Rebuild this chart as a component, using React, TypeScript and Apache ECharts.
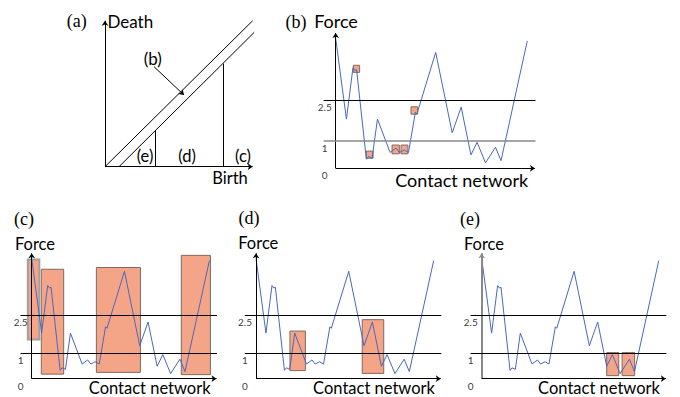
import React, { useEffect, useRef } from 'react';
import * as echarts from 'echarts';

// ---------- data ----------
// Force signal along the contact network (same signal in panels b–e)
const signalX = [0, 5.6, 9.0, 10.0, 10.9, 16.0, 17.1, 19.0, 21.8, 28.4, 31.5, 33.3, 35.8, 38.0, 41.6, 42.4, 52.2, 60.8, 65.5, 70.6, 73.8, 78.2, 83.4, 86.3, 100];
const signalForce = [4.75, 1.8, 3.68, 3.58, 3.61, 0.33, 0.43, 0.37, 1.8, 0.58, 0.74, 0.58, 0.67, 0.58, 2.05, 1.99, 4.24, 1.3, 2.24, 0.49, 0.95, 0.2, 0.77, 0.28, 4.66];
const thresholds = [1, 2.5];
const tickValues = [0, 1, 2.5];
const tickLabels = ['0', '1', '2.5'];

// highlighted boxes [x1, y1, x2, y2]
const boxesB = [[9.2, 3.51, 12.5, 3.77], [16.0, 0.37, 19.5, 0.63], [29.4, 0.53, 33.2, 0.85], [34.1, 0.53, 37.7, 0.85], [39.3, 1.98, 42.8, 2.25]];
const boxesC = [[-2.2, 1.55, 4.3, 4.71], [5.4, 0.18, 18.0, 4.32], [36.4, 0.25, 61.2, 4.39], [84.2, 0.16, 100.6, 4.87]];
const boxesD = [[19.1, 0.32, 27.8, 1.88], [59.8, 0.21, 71.9, 2.33]];
const boxesE = [[70.6, 0.12, 77.4, 1.03], [79.3, 0.12, 86.4, 1.03]];

// Panel (a): birth–death diagram
const diagonalUpper = [[0, 0], [100, 100]];
const diagonalLower = [[9.5, 0], [101, 92]];
const birthCuts = [34.3, 80.1];
const pointer = [[33.2, 68.5], [53.5, 49.1]];

const SANS = 'Lato, "Open Sans", sans-serif';
const SERIF = '"Liberation Serif", "DejaVu Serif", serif';
const BLUE = '#4a68bd';

function seg(a: number[], b: number[], color = '#000', width = 1, arrow = false, size = 6) {
  return [
    { coord: a, symbol: 'none', lineStyle: { color, width, type: 'solid' } },
    { coord: b, symbol: arrow ? 'arrow' : 'none', symbolSize: size },
  ];
}

const forcePanels = [
  { grid: { left: 323.25, top: 31.65, width: 213.6, height: 136.65 }, boxes: boxesB, yAxisColor: '#000', yAxisWidth: 1, lowColor: '#888', lowWidth: 1.6, firstBorder: null },
  { grid: { left: 20.15, top: 252.05, width: 198.1, height: 126.65 }, boxes: boxesC, yAxisColor: '#000', yAxisWidth: 1, lowColor: '#000', lowWidth: 1, firstBorder: '#a0a0a0' },
  { grid: { left: 244.45, top: 252.05, width: 198.1, height: 126.65 }, boxes: boxesD, yAxisColor: '#000', yAxisWidth: 1, lowColor: '#000', lowWidth: 1, firstBorder: null },
  { grid: { left: 470.2, top: 252.05, width: 197.4, height: 126.65 }, boxes: boxesE, yAxisColor: '#888', yAxisWidth: 2, lowColor: '#000', lowWidth: 1, firstBorder: null },
];

function buildOption() {
  const grids: any[] = [{ left: 105, top: 20.7, width: 150.65, height: 146 }];
  const xAxes: any[] = [{ type: 'value', gridIndex: 0, min: 0, max: 102, show: false }];
  const yAxes: any[] = [{ type: 'value', gridIndex: 0, min: 0, max: 100, show: false }];
  const series: any[] = [];

  // panel (a)
  const aLines: any[] = [
    seg([0, 0], [0, 100], '#000', 1, true, 5),
    seg([0, 0], [100, 0], '#000', 1, true, 5),
    seg(diagonalUpper[0], diagonalUpper[1]),
    seg(diagonalLower[0], diagonalLower[1]),
    ...birthCuts.map((x) => seg([x, 0], [x, x - diagonalLower[0][0]])),
    seg(pointer[0], pointer[1], '#000', 1, true, 5),
  ];
  series.push({
    type: 'line', xAxisIndex: 0, yAxisIndex: 0, data: [], silent: true,
    markLine: { silent: true, animation: false, label: { show: false }, emphasis: { disabled: true }, data: aLines },
  });

  forcePanels.forEach((p, i) => {
    const gi = i + 1;
    grids.push(p.grid);
    xAxes.push({ type: 'value', gridIndex: gi, min: -6.5, max: 105, show: false });
    yAxes.push({ type: 'value', gridIndex: gi, min: 0, max: 5, show: false });
    const pts = signalX.map((x, j) => [x, signalForce[j]]);
    series.push({
      type: 'line', xAxisIndex: gi, yAxisIndex: gi, data: pts, showSymbol: false, symbol: 'none', silent: true, z: 2,
      lineStyle: { color: BLUE, width: 1 },
      markLine: {
        silent: true, animation: false, label: { show: false }, emphasis: { disabled: true },
        data: [
          seg([0, 0], [0, 4.95], p.yAxisColor, p.yAxisWidth, true, 5),
          seg([0, 0], [104, 0], '#000', 1, true, 5),
          seg([-6.3, thresholds[1]], [104.3, thresholds[1]], '#000', 1),
          seg([-6.3, thresholds[0]], [104.3, thresholds[0]], p.lowColor, p.lowWidth),
        ],
      },
    });
    series.push({
      type: 'line', xAxisIndex: gi, yAxisIndex: gi, data: [], silent: true, z: 4,
      markArea: {
        silent: true, animation: false, label: { show: false }, emphasis: { disabled: true },
        data: p.boxes.map((b, k) => [
          {
            coord: [b[0], b[1]],
            itemStyle: {
              color: 'rgba(243,152,118,0.88)',
              borderColor: k === 0 && p.firstBorder ? p.firstBorder : '#7d6a60',
              borderWidth: k === 0 && p.firstBorder ? 2 : 1,
            },
          },
          { coord: [b[2], b[3]] },
        ]),
      },
    });
    series.push({
      type: 'scatter', xAxisIndex: gi, yAxisIndex: gi, silent: true, symbolSize: 0,
      data: tickValues.map((v, k) => ({ value: [0, v], label: { formatter: tickLabels[k] } })),
      label: { show: true, position: 'inside', offset: [-11, 7], fontFamily: SANS, fontSize: 10, color: '#000' },
    });
  });

  const t = (text: string, x: number, y: number, size: number, font = SANS, align = 'center') => ({
    type: 'text', x, y, silent: true,
    style: { text, fontSize: size, fontFamily: font, fill: '#000', textAlign: align, textVerticalAlign: 'middle' },
  });

  const graphic = [
    t('(a)', 76.7, 21, 18, SERIF),
    t('Death', 107.5, 21, 17, SANS, 'left'),
    t('(b)', 152.7, 58.3, 17),
    t('(e)', 145, 156, 16.5),
    t('(d)', 187, 156, 16.5),
    t('(c)', 243, 156, 16.5),
    t('Birth', 230, 178.3, 16.5),
    t('(b)', 296, 21.5, 18, SERIF),
    t('Force', 336, 21, 18),
    t('Contact network', 461.7, 180, 18),
    t('(c)', 24, 219, 18, SERIF),
    t('Force', 35, 244, 16.5),
    t('Contact network', 149.7, 387.5, 16.5),
    t('(d)', 249, 218, 18, SERIF),
    t('Force', 258.3, 242.5, 16.5),
    t('Contact network', 374, 387.5, 16.5),
    t('(e)', 470, 219, 18, SERIF),
    t('Force', 484, 244, 16.5),
    t('Contact network', 599, 387.5, 16.5),
  ];

  return { animation: false, backgroundColor: '#fff', grid: grids, xAxis: xAxes, yAxis: yAxes, series, graphic };
}

export default function App() {
  const ref = useRef<HTMLDivElement>(null);
  useEffect(() => {
    const chart = echarts.init(ref.current!, null, { renderer: 'svg' });
    chart.setOption(buildOption() as any);
    return () => chart.dispose();
  }, []);
  return <div ref={ref} style={{ position: 'fixed', left: 0, top: 0, width: 680, height: 397, background: '#fff' }} />;
}
